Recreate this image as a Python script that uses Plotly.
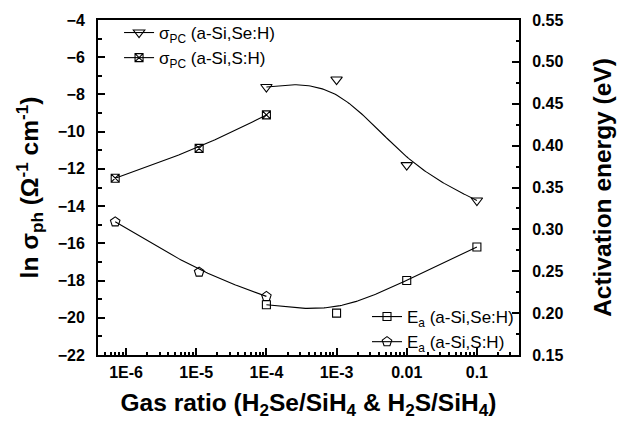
import numpy as np
import plotly.graph_objects as go

# ---- data ----
x_se = [1e-4, 1e-3, 1e-2, 1e-1]
sigma_se = [-7.6, -7.2, -11.8, -13.7]
ea_se = [0.21, 0.20, 0.239, 0.279]

x_s = [7e-7, 1.1e-5, 1e-4]
sigma_s = [-12.5, -10.9, -9.1]
ea_s = [0.309, 0.249, 0.220]

x_tickvals = [1e-6, 1e-5, 1e-4, 1e-3, 1e-2, 1e-1]
x_ticktext = ["1E-6", "1E-5", "1E-4", "1E-3", "0.01", "0.1"]
x_minor = [m * 10.0 ** d for d in range(-7, 0) for m in range(2, 10)]

FONT = "Liberation Sans, Arial, sans-serif"


def bspline(xs, ys, n=40):
    """Uniform cubic B-spline with tripled end points, in log10(x) space."""
    lx = list(np.log10(xs))
    ly = list(ys)
    px = [lx[0]] * 2 + lx + [lx[-1]] * 2
    py = [ly[0]] * 2 + ly + [ly[-1]] * 2
    ox, oy = [], []
    u = np.linspace(0, 1, n)
    b0 = (1 - u) ** 3 / 6
    b1 = (3 * u ** 3 - 6 * u ** 2 + 4) / 6
    b2 = (-3 * u ** 3 + 3 * u ** 2 + 3 * u + 1) / 6
    b3 = u ** 3 / 6
    for i in range(len(px) - 3):
        ox.extend(b0 * px[i] + b1 * px[i + 1] + b2 * px[i + 2] + b3 * px[i + 3])
        oy.extend(b0 * py[i] + b1 * py[i + 1] + b2 * py[i + 2] + b3 * py[i + 3])
    return list(10 ** np.array(ox)), oy


fig = go.Figure()
line = dict(color="black", width=1.1)


def add_series(xs, ys, symbol, size, name, yaxis, legend):
    cx, cy = bspline(xs, ys)
    fig.add_trace(go.Scatter(x=cx, y=cy, mode="lines", line=line, yaxis=yaxis,
                             showlegend=False, hoverinfo="skip"))
    mk = dict(symbol=symbol, size=size, color="black",
              line=dict(color="black", width=1.1))
    fig.add_trace(go.Scatter(x=xs, y=ys, mode="markers", marker=mk, yaxis=yaxis,
                             showlegend=False))
    fig.add_trace(go.Scatter(x=[None], y=[None], mode="lines+markers", marker=mk,
                             line=line, name=name, yaxis=yaxis, legend=legend))


add_series(x_se, sigma_se, "triangle-down-open", 10, "σ<sub>PC</sub> (a-Si,Se:H)", "y", "legend")
add_series(x_s, sigma_s, "square-x-open", 8, "σ<sub>PC</sub> (a-Si,S:H)", "y", "legend")
add_series(x_se, ea_se, "square-open", 8, "E<sub>a</sub> (a-Si,Se:H)", "y2", "legend2")
add_series(x_s, ea_s, "pentagon-open", 10, "E<sub>a</sub> (a-Si,S:H)", "y2", "legend2")

tickfont = dict(family=FONT, size=16, color="black", weight="bold")
titlefont = dict(family=FONT, size=24.5, color="black", weight="bold")
legfont = dict(family=FONT, size=17, color="black")

fig.update_layout(
    width=624, height=430,
    margin=dict(l=98, r=103, t=14, b=75),
    paper_bgcolor="white", plot_bgcolor="white",
    font=dict(family=FONT, color="black"),
    xaxis=dict(
        type="log", range=[-6.4, -0.4],
        tickmode="array", tickvals=x_tickvals, ticktext=x_ticktext,
        ticks="inside", ticklen=7, tickwidth=2, tickcolor="black",
        minor=dict(tickmode="array", tickvals=x_minor, ticks="inside", ticklen=3.5,
                   tickwidth=1.5, tickcolor="black", showgrid=False),
        showline=True, linewidth=2, linecolor="black", mirror=True,
        showgrid=False, zeroline=False,
        tickfont=tickfont, ticklabelstandoff=2,
        title=dict(text="Gas ratio (H<sub>2</sub>Se/SiH<sub>4</sub> & H<sub>2</sub>S/SiH<sub>4</sub>)",
                   font=titlefont, standoff=14),
    ),
    yaxis=dict(
        range=[-22, -4], dtick=2, tick0=-22,
        ticks="inside", ticklen=7, tickwidth=2, tickcolor="black",
        minor=dict(dtick=1, ticks="inside", ticklen=3.5, tickwidth=1.5, tickcolor="black", showgrid=False),
        showline=True, linewidth=2, linecolor="black",
        showgrid=False, zeroline=False,
        tickfont=tickfont, ticklabelstandoff=8,
        title=dict(text="ln σ<sub>ph</sub> (Ω<sup>-1</sup> cm<sup>-1</sup>)", font=titlefont, standoff=12),
    ),
    yaxis2=dict(
        range=[0.15, 0.55], dtick=0.05, tick0=0.15, tickformat=".2f",
        overlaying="y", side="right", anchor="x",
        ticks="inside", ticklen=7, tickwidth=2, tickcolor="black",
        minor=dict(dtick=0.025, ticks="inside", ticklen=3.5, tickwidth=1.5, tickcolor="black", showgrid=False),
        showline=True, linewidth=2, linecolor="black",
        showgrid=False, zeroline=False,
        tickfont=tickfont, ticklabelstandoff=8,
        title=dict(text="Activation energy (eV)", font=titlefont, standoff=31),
    ),
    legend=dict(x=0.05, y=1.015, xanchor="left", yanchor="top", font=legfont,
                bgcolor="rgba(0,0,0,0)", borderwidth=0, tracegroupgap=0),
    legend2=dict(x=1.0, y=-0.015, xanchor="right", yanchor="bottom", font=legfont,
                 bgcolor="rgba(0,0,0,0)", borderwidth=0, tracegroupgap=0),
)

fig.write_html("out.html")
